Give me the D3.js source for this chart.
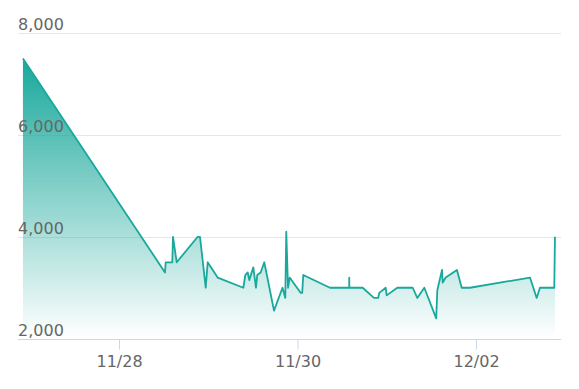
<!DOCTYPE html>
<html>
<head>
<meta charset="utf-8">
<script src="https://cdn.jsdelivr.net/npm/d3@7"></script>
<style>
  html, body { margin: 0; padding: 0; background: #fff; }
  svg { display: block; }
</style>
</head>
<body>
<svg id="chart" width="579" height="389"></svg>
<script>
const times = [
  "2023-11-26T22:10","2023-11-28T12:22","2023-11-28T12:34","2023-11-28T14:20","2023-11-28T14:31",
  "2023-11-28T15:31","2023-11-28T21:10","2023-11-28T21:47","2023-11-28T23:19","2023-11-28T23:51",
  "2023-11-29T02:32","2023-11-29T09:26","2023-11-29T09:58","2023-11-29T10:37","2023-11-29T11:02",
  "2023-11-29T12:07","2023-11-29T12:50","2023-11-29T13:11","2023-11-29T14:06","2023-11-29T15:04",
  "2023-11-29T17:41","2023-11-29T19:58","2023-11-29T20:43","2023-11-29T20:59","2023-11-29T21:27",
  "2023-11-29T21:54","2023-11-30T00:50","2023-11-30T01:16","2023-11-30T01:33","2023-11-30T08:44",
  "2023-11-30T13:54","2023-11-30T13:55","2023-11-30T13:56","2023-11-30T17:32","2023-11-30T20:34",
  "2023-11-30T21:43","2023-11-30T21:59","2023-11-30T23:43","2023-11-30T23:59","2023-12-01T02:50",
  "2023-12-01T06:59","2023-12-01T08:13","2023-12-01T10:06","2023-12-01T13:18","2023-12-01T13:36",
  "2023-12-01T14:52","2023-12-01T15:03","2023-12-01T15:51","2023-12-01T18:53","2023-12-01T20:09",
  "2023-12-01T22:23","2023-12-02T14:31","2023-12-02T16:19","2023-12-02T17:12","2023-12-02T18:06",
  "2023-12-02T21:03","2023-12-02T21:14"
];
const values = [
  7500,3300,3500,3500,4000,
  3500,4000,4000,3000,3500,
  3200,3000,3250,3300,3150,
  3400,3000,3250,3300,3500,
  2550,3000,2800,4100,3000,
  3200,2900,2900,3250,3000,
  3000,3200,3000,3000,2800,
  2800,2900,3000,2850,3000,
  3000,2800,3000,2400,2950,
  3350,3100,3200,3350,3000,
  3000,3200,2800,3000,3000,
  3000,4000
];
const yTicks = [2000, 4000, 6000, 8000];
const xTicks = ["2023-11-28T00:00","2023-11-30T00:00","2023-12-02T00:00"];

const parse = d3.utcParse("%Y-%m-%dT%H:%M");
const data = times.map((t, i) => ({ t: parse(t), v: values[i] }));

const svg = d3.select("#chart");
const plotLeft = 18, plotRight = 561, yTop = 33, yBottom = 338.7;

const x = d3.scaleUtc()
  .domain([parse("2023-11-28T00:00"), parse("2023-12-02T00:00")])
  .range([119, 476]);
const y = d3.scaleLinear().domain([2000, 8000]).range([yBottom, yTop]);

const lineColor = "#19a89b";

// gradient
const defs = svg.append("defs");
const grad = defs.append("linearGradient")
  .attr("id", "fillGrad")
  .attr("gradientUnits", "userSpaceOnUse")
  .attr("x1", 0).attr("x2", 0)
  .attr("y1", y(d3.max(values))).attr("y2", y(2000));
grad.append("stop").attr("offset", 0).attr("stop-color", lineColor).attr("stop-opacity", 1);
grad.append("stop").attr("offset", 1).attr("stop-color", lineColor).attr("stop-opacity", 0);

// gridlines
svg.append("g").selectAll("line")
  .data(yTicks.filter(d => d !== 2000))
  .join("line")
  .attr("x1", plotLeft).attr("x2", plotRight)
  .attr("y1", d => Math.round(y(d)) + 0.5).attr("y2", d => Math.round(y(d)) + 0.5)
  .attr("stroke", "#e6e6e6").attr("stroke-width", 1);

// area
const area = d3.area()
  .x(d => x(d.t))
  .y0(y(2000))
  .y1(d => y(d.v));
svg.append("path").datum(data)
  .attr("d", area)
  .attr("fill", "url(#fillGrad)");

// x axis line
svg.append("line")
  .attr("x1", plotLeft).attr("x2", plotRight)
  .attr("y1", Math.round(y(2000)) + 0.5).attr("y2", Math.round(y(2000)) + 0.5)
  .attr("stroke", "#ccd6eb").attr("stroke-width", 1);

// line
const line = d3.line().x(d => x(d.t)).y(d => y(d.v));
svg.append("path").datum(data)
  .attr("d", line)
  .attr("fill", "none")
  .attr("stroke", lineColor)
  .attr("stroke-width", 1.8)
  .attr("stroke-linejoin", "round");

// x axis ticks via d3 axis
const xAxis = d3.axisBottom(x)
  .tickValues(xTicks.map(parse))
  .tickFormat(d3.utcFormat("%m/%d"))
  .tickSize(10)
  .tickPadding(6);
const gx = svg.append("g")
  .attr("transform", `translate(0,${Math.round(y(2000)) + 0.5})`)
  .call(xAxis);
gx.select(".domain").remove();
gx.selectAll(".tick line").attr("stroke", "#ccd6eb");
gx.selectAll(".tick text")
  .attr("fill", "#666")
  .style("font-family", "'DejaVu Sans', Verdana, sans-serif")
  .style("font-size", "16px");

// y labels
svg.append("g").selectAll("text")
  .data(yTicks)
  .join("text")
  .attr("x", plotLeft)
  .attr("y", d => y(d) - 3)
  .attr("fill", "#666")
  .style("font-family", "'DejaVu Sans', Verdana, sans-serif")
  .style("font-size", "16px")
  .text(d => d3.format(",")(d));
</script>
</body>
</html>
